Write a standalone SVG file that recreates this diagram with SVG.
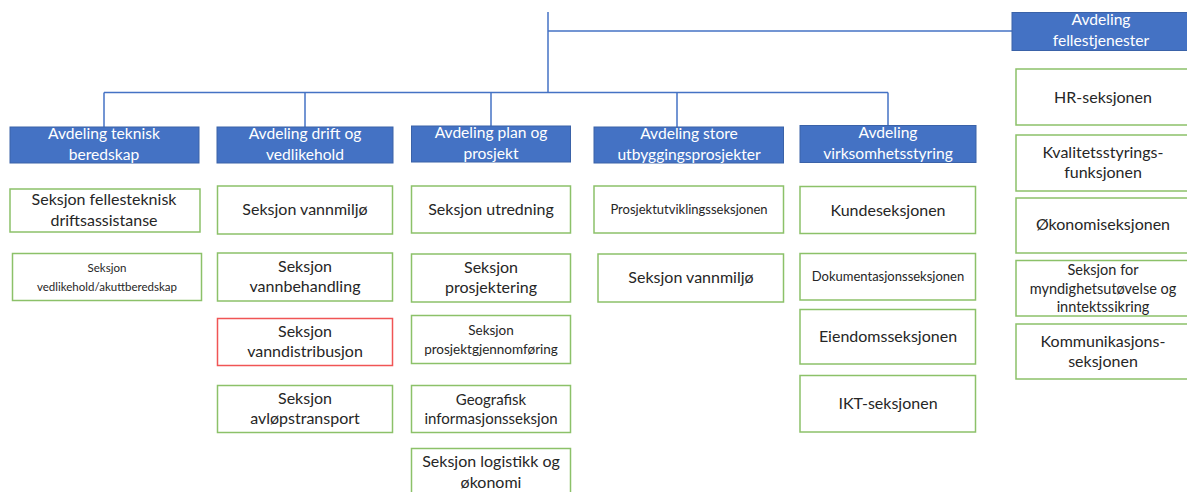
<svg xmlns="http://www.w3.org/2000/svg" width="1187" height="492" viewBox="0 0 1187 492">
  <defs>
    <style>
      .dept rect { fill: #4472C4; stroke: #3A62A8; stroke-width: 1; }
      .dept text { fill: #FFFFFF; font-family: Lato, "Liberation Sans", sans-serif; font-size: 15.6px; text-anchor: middle; }
      .sec rect { fill: #FFFFFF; stroke: #8CC169; stroke-width: 1.5; }
      .sec.alert rect { stroke: #F05555; }
      .sec text { fill: #262626; font-family: Lato, "Liberation Sans", sans-serif; font-size: 16px; text-anchor: middle; }
      .sec text.s11 { font-size: 11.5px; }
      .sec text.s13 { font-size: 13px; }
      .sec text.s135 { font-size: 13.5px; }
      .sec text.s145 { font-size: 14.5px; }
      .sec text.s15 { font-size: 15px; }
      .links line { stroke: #4472C4; stroke-width: 1.5; }
    </style>
  </defs>
  <rect x="0" y="0" width="1187" height="492" fill="#FFFFFF"/>

  <!-- connectors -->
  <g class="links">
    <line x1="548" y1="12" x2="548" y2="93"/>
    <line x1="548" y1="31" x2="1012" y2="31"/>
    <line x1="104" y1="92.5" x2="888" y2="92.5"/>
    <line x1="104" y1="92.5" x2="104" y2="127"/>
    <line x1="305" y1="92.5" x2="305" y2="127"/>
    <line x1="491" y1="92.5" x2="491" y2="126"/>
    <line x1="677" y1="92.5" x2="677" y2="127"/>
    <line x1="888" y1="92.5" x2="888" y2="125"/>
  </g>

  <!-- departments -->
  <g id="dept-teknisk-beredskap" class="dept">
    <rect x="10" y="127" width="189" height="36"/>
    <text x="104" y="139">Avdeling teknisk</text>
    <text x="104" y="160">beredskap</text>
  </g>
  <g id="dept-drift-vedlikehold" class="dept">
    <rect x="217" y="127" width="176" height="36"/>
    <text x="305" y="139">Avdeling drift og</text>
    <text x="305" y="160">vedlikehold</text>
  </g>
  <g id="dept-plan-prosjekt" class="dept">
    <rect x="411.5" y="126" width="159" height="36"/>
    <text x="491" y="138">Avdeling plan og</text>
    <text x="491" y="159">prosjekt</text>
  </g>
  <g id="dept-store-utbygging" class="dept">
    <rect x="594" y="127" width="189.5" height="36"/>
    <text x="689" y="139">Avdeling store</text>
    <text x="689" y="160">utbyggingsprosjekter</text>
  </g>
  <g id="dept-virksomhetsstyring" class="dept">
    <rect x="800" y="125.5" width="176" height="37"/>
    <text x="888" y="138">Avdeling</text>
    <text x="888" y="159">virksomhetsstyring</text>
  </g>
  <g id="dept-fellestjenester" class="dept">
    <rect x="1012" y="12.5" width="180" height="38"/>
    <text x="1101" y="25">Avdeling</text>
    <text x="1101" y="46">fellestjenester</text>
  </g>

  <!-- sections: teknisk beredskap -->
  <g id="sec-fellesteknisk" class="sec">
    <rect x="10" y="189" width="190" height="43"/>
    <text x="104" y="205">Seksjon fellesteknisk</text>
    <text x="104" y="226">driftsassistanse</text>
  </g>
  <g id="sec-vedlikehold-akutt" class="sec">
    <rect x="12.5" y="253.5" width="189" height="47"/>
    <text class="s11" x="107" y="272">Seksjon</text>
    <text class="s11" x="107" y="291">vedlikehold/akuttberedskap</text>
  </g>

  <!-- sections: drift og vedlikehold -->
  <g id="sec-vannmiljo-drift" class="sec">
    <rect x="217.5" y="186" width="175" height="48"/>
    <text x="305" y="215">Seksjon vannmiljø</text>
  </g>
  <g id="sec-vannbehandling" class="sec">
    <rect x="217.5" y="253" width="175" height="48"/>
    <text x="305" y="272">Seksjon</text>
    <text x="305" y="292">vannbehandling</text>
  </g>
  <g id="sec-vanndistribusjon" class="sec alert">
    <rect x="217.5" y="318.5" width="175" height="47"/>
    <text x="305" y="337">Seksjon</text>
    <text x="305" y="357">vanndistribusjon</text>
  </g>
  <g id="sec-avlopstransport" class="sec">
    <rect x="217.5" y="385.5" width="175" height="47"/>
    <text x="305" y="404">Seksjon</text>
    <text x="305" y="424">avløpstransport</text>
  </g>

  <!-- sections: plan og prosjekt -->
  <g id="sec-utredning" class="sec">
    <rect x="411.5" y="186" width="159" height="47"/>
    <text x="491" y="215">Seksjon utredning</text>
  </g>
  <g id="sec-prosjektering" class="sec">
    <rect x="411.5" y="254" width="159" height="48"/>
    <text x="491" y="273">Seksjon</text>
    <text x="491" y="293">prosjektering</text>
  </g>
  <g id="sec-prosjektgjennomforing" class="sec">
    <rect x="411.5" y="315.5" width="159" height="48"/>
    <text class="s135" x="491" y="335">Seksjon</text>
    <text class="s135" x="491" y="354">prosjektgjennomføring</text>
  </g>
  <g id="sec-geografisk" class="sec">
    <rect x="411.5" y="385.5" width="159" height="47"/>
    <text class="s15" x="491" y="405">Geografisk</text>
    <text class="s15" x="491" y="424">informasjonsseksjon</text>
  </g>
  <g id="sec-logistikk" class="sec">
    <rect x="411.5" y="448.5" width="159" height="50"/>
    <text x="491" y="467">Seksjon logistikk og</text>
    <text x="491" y="488">økonomi</text>
  </g>

  <!-- sections: store utbyggingsprosjekter -->
  <g id="sec-prosjektutvikling" class="sec">
    <rect x="594" y="186" width="189.5" height="47"/>
    <text class="s13" x="689" y="214">Prosjektutviklingsseksjonen</text>
  </g>
  <g id="sec-vannmiljo-utbygging" class="sec">
    <rect x="598" y="254" width="185.5" height="48"/>
    <text x="691" y="283">Seksjon vannmiljø</text>
  </g>

  <!-- sections: virksomhetsstyring -->
  <g id="sec-kunde" class="sec">
    <rect x="800" y="186.5" width="175.5" height="47"/>
    <text x="888" y="216">Kundeseksjonen</text>
  </g>
  <g id="sec-dokumentasjon" class="sec">
    <rect x="800" y="253.5" width="175.5" height="46.5"/>
    <text class="s13" x="888" y="281">Dokumentasjonsseksjonen</text>
  </g>
  <g id="sec-eiendom" class="sec">
    <rect x="800" y="309.5" width="175.5" height="54.5"/>
    <text x="888" y="342">Eiendomsseksjonen</text>
  </g>
  <g id="sec-ikt" class="sec">
    <rect x="800" y="375.5" width="175.5" height="56.5"/>
    <text x="888" y="409">IKT-seksjonen</text>
  </g>

  <!-- sections: fellestjenester -->
  <g id="sec-hr" class="sec">
    <rect x="1016" y="69" width="178" height="56"/>
    <text x="1103" y="103">HR-seksjonen</text>
  </g>
  <g id="sec-kvalitet" class="sec">
    <rect x="1016" y="135" width="178" height="56"/>
    <text x="1103" y="158">Kvalitetsstyrings-</text>
    <text x="1103" y="178">funksjonen</text>
  </g>
  <g id="sec-okonomi" class="sec">
    <rect x="1016" y="198" width="178" height="55"/>
    <text x="1103" y="230">Økonomiseksjonen</text>
  </g>
  <g id="sec-myndighet" class="sec">
    <rect x="1016" y="260.5" width="178" height="55.5"/>
    <text class="s145" x="1103" y="275">Seksjon for</text>
    <text class="s145" x="1103" y="294">myndighetsutøvelse og</text>
    <text class="s145" x="1103" y="312">inntektssikring</text>
  </g>
  <g id="sec-kommunikasjon" class="sec">
    <rect x="1016" y="324" width="178" height="55"/>
    <text x="1103" y="347">Kommunikasjons-</text>
    <text x="1103" y="367">seksjonen</text>
  </g>
</svg>
